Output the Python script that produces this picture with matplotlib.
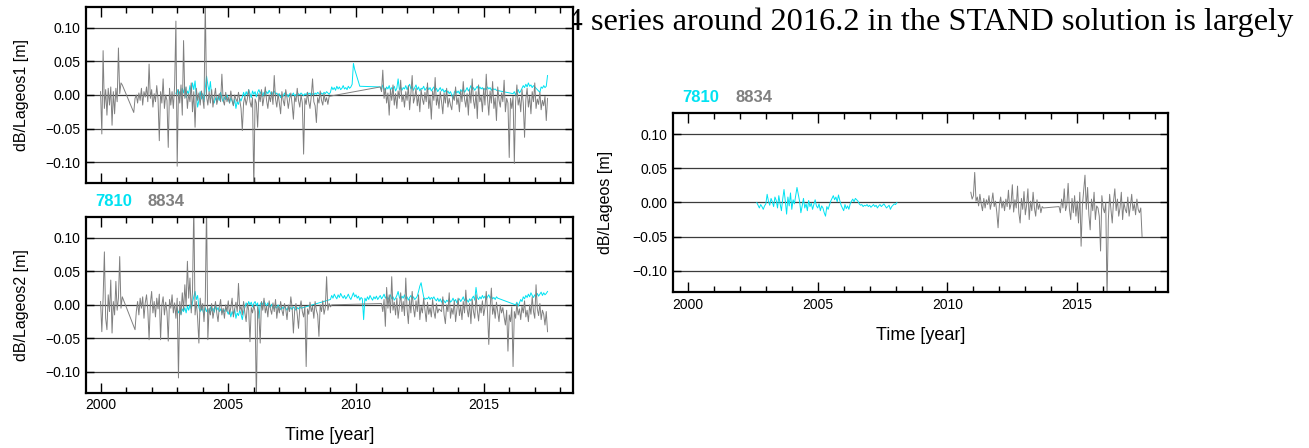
import matplotlib.pyplot as plt
import numpy as np
from matplotlib.ticker import FuncFormatter

plt.rcParams['font.family'] = ['Liberation Sans', 'DejaVu Sans']

# sampling step of the series (years); values are in mm
STEP = 0.05

# ---- dB/Lageos1 : station 8834 ----
lag1_8834_start = [2000.0, 2001.30, 2010.95]
lag1_8834_mm = [
    [5, -58, 66, -20, 8, -30, 10, -15, 12, -45, 5, -28, 10, -10, 70, 2, 18, 15],
    [-26, -5, 0, -12, 3, -8, 10, -15, 5, -3, 12, -10, 46, -5,
     8, -18, 2, -10, 14, -6, -68, 5, -12, 24, -20, 0, -8, -78, 10, -15, 5, -20, 14, 110,
     -106, 8, -12, 15, -30, 81, -5, 12, -20, 2, -10, 18, -25, 5, -48, 10, -8, 3, -15, 6,
     -5, -20, 140, -2, -15, 5, -12, 8, -18, -3, 10, -14, -6, 2, -10, 31, -8, -15, 4, -10,
     -3, -12, 6, -8, -16, 0, -6, -10, 4, -8, -20, -53, -12, -2, -15, -5, 8, -10, -18, -4,
     -140, -6, -12, -48, 2, -10, 8, -16, -3, 12, -8, -20, 0, -10, 5, -14, 29, -6, -18, 2,
     -12, -28, 5, -8, -16, 8, -4, -20, -6, 3, -14, -36, -2, -10, 10, -8, -18, 0, -12, -88,
     -5, -14, 4, -10, -20, -2, 24, -10, -16, -41, -4, -12, 6, -8, -15, 2, -10, -4, -14, -2],
    [12,
     5, 37, -5, 10, -12, 3, -30, 8, -8, 15, -15, 2, -20, 6, -5, 22, -10, 0, -18, 5,
     -8, 14, -22, 2, 29, -12, -4, 10, -16, 0, -25, 8, -6, -14, 4, -10, 18, -20, -2, -36,
     6, -8, 26, -15, -2, -20, 5, -10, -28, 3, -12, 10, -18, -5, -15, -22, 0, -8, 12, -14,
     -4, -25, 6, -10, 20, -6, -18, 2, -30, 8, -12, 24, -8, -20, 5, -35, 15, -10, -2, -25,
     10, -15, 31, -5, -30, 6, -12, 20, -20, -4, -38, 12, -8, -18, 3, -10, 22, -25, -5, -12,
     -93, -5, -20, -2, -102, -10, 15, -15, -4, -25, 8, -12, -63, -6, 10, -18, -2, -28, 5, -10,
     18, -20, -6, -14, 4, -22, -8, -16, -2, -38, -5],
]

# ---- dB/Lageos1 : station 7810 ----
lag1_7810_start = [2002.95, 2010.15, 2010.95, 2016.15, 2017.20]
lag1_7810_mm = [
    [2,
     8, -2, 5, 0, 10, 3, 12, -4, 6, 2, 14, 4, 18, 8, 21, -2, -18, -8, 5, -6,
     2, -10, 10, 28, 15, 5, 20, -2, -8, -12, -4, -10, -2, -8, 4, -5, -10, -3, -7, 0,
     -6, -12, -4, -9, -15, -6, -20, -10, -14, -5, -9, -3, 4, -2, 5, 0, 8, 2, -4, 6,
     1, 5, -3, 4, 8, 2, 6, -2, 4, 0, 5, 2, 7, 3, -1, 4, 6, 1, 3, -2,
     2, -4, 0, -2, 3, -1, 1, -3, 2, -1, 0, 3, -2, 1, -1, 2, 0, 3, 1, -1,
     2, 0, 4, 1, 3, -1, 2, 0, 3, 1, 4, 2, 0, 3, 1, 4, 2, 5, 3, 1,
     4, 12, 8, 11, 7, 13, 9, 12, 8, 10, 14, 9, 11, 8, 13, 10, 12, 16, 47, 38],
    [13],
    [12,
     8, 15, 10, 6, 12, 9, 14, 7, 11, 9, 13, 6, 10, 24, 8, 12, 7, 11, 9, 14,
     8, 12, 16, 9, 13, 7, 11, 15, 8, 12, 6, 10, 9, 13, 7, 10, 12, 8, 11, 6,
     9, 12, 7, 10, 5, 8, 11, 6, 9, 4, 7, 3, 6, 2, 5, 0, -6, 4, 7, 3,
     6, 2, 8, 5, 9, 4, 7, 11, 6, 9, 14, 8, 11, 7, 10, 13, 8, 12, 9, 11,
     7, 10, 8, 12, 9, 11, 7, 10, 8, 9, 7],
    [2, 5, 0, 4, 8, 3, 6, 10, 14, 11, 16, 12, 18, 13, 15, 11, 14],
    [4, 12, 10, 14, 11, 13, 29],
]

# ---- dB/Lageos2 : station 8834 ----
lag2_8834_start = [2000.0, 2001.35, 2011.0]
lag2_8834_mm = [
    [5, -40, 10, 79, -20, -37, 15, -10, 37, -42, 5, -15, 35, -8, 10, 72, -5, 12],
    [-37, -10, 5, -15, 10, -5, 12, -20, 3, 15, -8, -52, 2,
     20, -12, 5, -18, 10, -6, 16, -52, 0, 12, -15, 4, -10, -54, 8, -5, 15, -12, 3, -20,
     10, -109, 5, -15, 18, -8, 30, -2, 65, 10, 40, -12, 20, 150, -15, 5, -20, -57, 10, -8,
     2, -25, 6, 150, -52, -5, -15, 2, -20, -8, 5, -12, -25, -3, 8, -15, -5, -20, 0, -10,
     6, -14, -4, 10, -18, -6, 4, -10, 32, -8, -2, -15, 5, -12, -25, 2, -8, -55, -4, -12,
     0, -10, -145, -3, -15, -57, 5, -8, 10, -12, -2, -18, 6, -6, -14, 3, -10, 8, -20, -2,
     -12, 5, -8, -16, 2, -6, -22, 0, -10, 12, -4, -42, -8, 2, -14, -35, -5, 6, -10, -18,
     -2, -92, -6, -14, 4, -10, -2, -20, 5, -8, -15, -47, 0, -10, 6, -14, -4, 42, -8, 2,
     -3, 0],
    [2, -10, 8, -32, 26, -5, 15, -12, 42, -8, 4, -15, 10, -20, -2, 18, -10, 5, -16, 40,
     -6, -28, 8, -12, 20, -4, -18, 6, -10, 15, -22, -2, -12, 10, -8, -25, 4, -14, -4, -18,
     8, -10, -20, 2, -12, -6, -8, -10, 12, -15, -28, 0, -10, 18, -20, -5, -14, 6, -25, -8,
     10, -16, -2, -22, 5, -12, 22, -6, -18, 2, -28, 8, -10, -20, 15, -8, -24, 0, -12, 6,
     -16, -4, 20, -10, -59, -6, 25, -14, -2, -20, 4, -10, -25, 0, -12, -4, -18, -30, -8, -69,
     -15, -25, -3, -92, -10, -20, 2, -15, -6, -22, -2, -12, 6, -18, -8, -25, 0, -14, 12, -10,
     -20, 30, -6, -16, 2, -22, -8, -14, -30, -10, -40],
]

# ---- dB/Lageos2 : station 7810 ----
lag2_7810_start = [2003.0, 2009.0, 2016.25]
lag2_7810_mm = [
    [-5, -12, -8, -14, -6, -10, -4, -12, -2, -8, 0, -6, 4, 12, 20, 8, 14, -4, -10, -2,
     -8, -14, -4, -10, -6, -12, -3, -9, -5, -11, -2, -8, -4, -10, -6, -12, -7, -10, -5, -9,
     -14, -8, -18, -10, -15, -6, -20, -12, -16, -8, -14, -22, -10, -4, 3, -2, 5, 0, 4, -3,
     2, 5, -1, 3, -20, 1, 4, 0, 6, 2, -2, 3, -1, -4, 1, -3, -6, -2, -5, 0,
     -4, -7, -3, -6, -2, -5, -8, -3, -6, -4, -7, -3, -5, -8, -4, -6, -3, -5],
    [8, 14, 10, 16, 12, 9, 15, 11, 17, 13, 10, 14, 9, 12, 16, 11, 8, 13, 18, 12,
     15, 10, 13, 7, 11, 9, -22, 10, 6, 12, 8, 14, 10, 7, 12, 9, 13, 8, 11, 14,
     9, 12, 16, 10, 13, 8, 11, 15, 9, 12, 7, 10, 14, 20, 11, 8, 13, 10, 15, 9,
     12, 7, 11, 14, 9, 12, 8, 10, 13, 20, 28, 33, 22, 12, 8, 10, 9, 12, 8, 11,
     9, 12, 8, 6, 10, 5, 9, 4, 8, 6, 3, 7, 5, 9, 4, 6, 10, 5, 8, 3,
     7, 9, 5, 8, 12, 6, 10, 7, 4, 9, 6, 10, 13, 7, 26, 11, 8, 12, 9, 14,
     10, 13, 8, 12, 15, 10, 13, 9, 11, 8, 12, 10],
    [0, 4, -2, 3, 8, 5, 12, 9, 14, 11, 16, 12, 18, 14, 11, 15, 12, 17, 13, 16,
     19, 14, 18, 15, 17, 20],
]

# ---- dB/Lageos : 7810 and 8834 ----
lag_7810_start = [2002.65]
lag_7810_mm = [
    [0, -4, -8, -3, -6, -10, -5,
     -2, 12, 2, -4, 6, 1, -6, 8, 3, -8, 10, -2, -12, 5, 19, 2, -17, 8, -5, 14,
     -10, 4, -2, 10, 22, 12, 2, -15, -5, 6, -8, -2, -12, 3, -6, -1, -10, -3, 4, -5,
     -8, -2, -12, -5, -8, -15, -20, -6, -10, -4, 2, 6, 10, 4, 8, 1, 11, 3, -4, -8,
     -12, -3, -9, -5, -10, -2, 2, 5, 1, 6, 4, 2, -2, -4, -3, -6, -4, -5, -3, -6,
     -4, -7, -5, -3, -6, -4, -8, -5, -3, -6, -4, -2, -5, -8, -6, -4, -10, -6, -4, -2,
     -3, 0],
]
lag_8834_start = [2010.90, 2014.30]
lag_8834_mm = [
    [15, 5,
     10, 44, 2, 8, -5, 12, -2, -12, 6, -8, 4, -3, 10, -10, 0, 14, -6, 2, -14, -37,
     -4, 8, -8, 2, -12, 5, -6, 18, -10, -2, 26, -14, 4, -8, 24, -15, -30, 6, -10, 16,
     -18, -4, 20, -25, 2, -12, 15, -8, -20, 4, -10, -2, -15, -6, -8],
    [-6, -15, 5, -8, 20, -12, -4, 28, -10, -25, 6, -15, 10, -20,
     2, -30, 15, -64, -5, 18, 40, -10, 22, -18, -40, 5, -12, 15, -25, -5, -8, -20, -71, 10,
     -8, -15, 0, -140, -25, 12, -10, -30, 2, 20, -12, 5, -20, -8, 15, -25, 0, -10, -15, 8,
     -20, -5, 12, -12, -2, -18, 5, -10, -15, -8, -50],
]

CYAN = '#00E2F2'
GRAY = '#808080'


def build(starts, segs):
    t = np.concatenate([s + STEP * np.arange(len(v)) for s, v in zip(starts, segs)])
    y = np.concatenate([np.asarray(v, float) for v in segs]) / 1000.0
    return t, y


def style(ax, ylabel, ylab_x, xlabels=True):
    ax.set_xlim(1999.42, 2018.5)
    ax.set_ylim(-0.131, 0.131)
    ax.set_xticks([2000, 2005, 2010, 2015])
    ax.set_xticks(np.arange(2000, 2019), minor=True)
    ax.set_yticks([-0.1, -0.05, 0.0, 0.05, 0.1])
    ax.yaxis.set_major_formatter(FuncFormatter(lambda v, p: ('%.2f' % v).replace('-', '\u2212')))
    ax.grid(axis='y', color='#3c3c3c', lw=0.9)
    ax.set_axisbelow(True)
    ax.tick_params(which='both', direction='in', top=True, right=True, width=1.0,
                   labelsize=10, pad=4, colors='black')
    ax.tick_params(axis='x', which='major', length=7)
    ax.tick_params(axis='x', which='minor', length=4)
    ax.tick_params(axis='y', which='major', length=6)
    for sp in ax.spines.values():
        sp.set_linewidth(1.6)
    ax.set_ylabel(ylabel, fontsize=11.5, va='center')
    ax.yaxis.set_label_coords(ylab_x, 0.5)
    if xlabels:
        ax.set_xlabel('Time [year]', fontsize=13, va='center')
        ax.xaxis.set_label_coords(0.5, -0.241)
    else:
        ax.tick_params(axis='x', labelbottom=False)


def legend(ax, y):
    ax.text(0.019, y, '7810', color=CYAN, fontsize=12, fontweight='bold',
            transform=ax.transAxes, va='center', ha='left')
    ax.text(0.127, y, '8834', color=GRAY, fontsize=12, fontweight='bold',
            transform=ax.transAxes, va='center', ha='left')


fig = plt.figure(figsize=(13.09, 4.48), dpi=100)

# piece of the page text that sits behind the first panel
fig.text(1293.6 / 1309, 1 - 30 / 448,
         '8834 series around 2016.2 in the STAND solution is largely',
         family=['Liberation Serif', 'DejaVu Serif'], fontsize=23.3,
         ha='right', va='baseline', zorder=-1)

ax1 = fig.add_axes([0.0655, 0.5915, 0.3723, 0.3929])
ax2 = fig.add_axes([0.0655, 0.1234, 0.3723, 0.3922])
ax3 = fig.add_axes([0.5141, 0.3482, 0.3782, 0.3996])

t, y = build(lag1_7810_start, lag1_7810_mm)
ax1.plot(t, y, color=CYAN, lw=0.7)
t, y = build(lag1_8834_start, lag1_8834_mm)
ax1.plot(t, y, color=GRAY, lw=0.7)
style(ax1, 'dB/Lageos1 [m]', -0.131, xlabels=False)

t, y = build(lag2_7810_start, lag2_7810_mm)
ax2.plot(t, y, color=CYAN, lw=0.7)
t, y = build(lag2_8834_start, lag2_8834_mm)
ax2.plot(t, y, color=GRAY, lw=0.7)
style(ax2, 'dB/Lageos2 [m]', -0.131)
legend(ax2, 1.091)

t, y = build(lag_7810_start, lag_7810_mm)
ax3.plot(t, y, color=CYAN, lw=0.7)
t, y = build(lag_8834_start, lag_8834_mm)
ax3.plot(t, y, color=GRAY, lw=0.7)
style(ax3, 'dB/Lageos [m]', -0.136)
legend(ax3, 1.089)

fig.savefig('out.png', dpi=100)
